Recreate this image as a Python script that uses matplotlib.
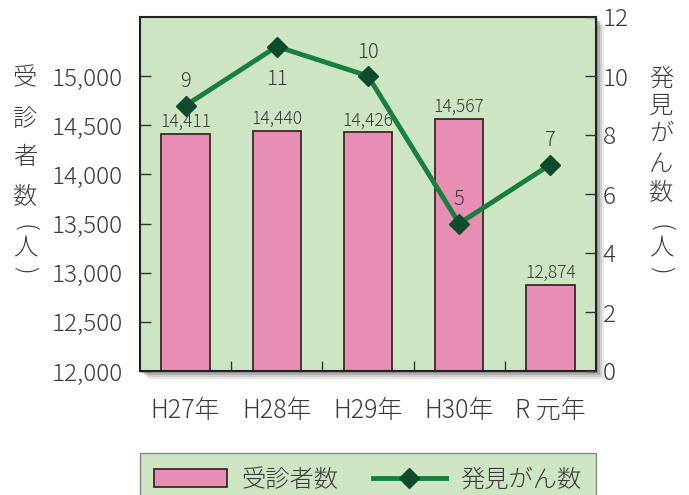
import matplotlib.pyplot as plt
from matplotlib.patches import Patch, Rectangle
from matplotlib.lines import Line2D

plt.rcParams['font.family'] = ['Noto Sans CJK JP', 'DejaVu Sans']
plt.rcParams['font.weight'] = 'light'

# データ
years = ['H27年', 'H28年', 'H29年', 'H30年', 'R 元年']
examinees = [14411, 14440, 14426, 14567, 12874]
cancers = [9, 11, 10, 5, 7]

bg = '#cde5c3'
pink = '#e88db3'
green = '#17803d'
dark = '#0e4a2c'
txt = '#3a3a3a'

fig = plt.figure(figsize=(6.89, 4.95), dpi=100)
W, H = 689, 495
L, R, T, B = 140, 596, 17, 371
pos = [L / W, 1 - B / H, (R - L) / W, (B - T) / H]

# 影
for off, a in [(8, 0.15), (6, 0.2), (4, 0.3), (2, 0.35)]:
    fig.patches.append(Rectangle((pos[0] + off / W, pos[1] - off / H), pos[2], pos[3],
                                 transform=fig.transFigure, color='#666666', alpha=a,
                                 lw=0, zorder=-1))

ax = fig.add_axes(pos)
ax.set_facecolor(bg)
x = range(len(years))
ax.bar(x, examinees, width=0.53, color=pink, edgecolor='#3a2a2a', lw=1.3, zorder=2)
ax.set_ylim(12000, 15600)
ax.set_xlim(-0.5, 4.5)
ax.set_yticks([12000, 12500, 13000, 13500, 14000, 14500, 15000])
ax.set_yticklabels([f'{v:,}' for v in ax.get_yticks()])
ax.set_xticks(list(x))
ax.set_xticklabels(years)
ax.set_xticks([0.5, 1.5, 2.5, 3.5], minor=True)
ax.tick_params(axis='x', which='major', length=0, pad=19, labelsize=18, labelcolor=txt)
ax.tick_params(axis='x', which='minor', direction='in', length=7, width=1, color='#333333')
ax.tick_params(axis='y', direction='in', length=8, width=1, pad=12, labelsize=17.5,
               labelcolor=txt, color='#333333')
for s in ax.spines.values():
    s.set_color('#222222')
    s.set_linewidth(1.5)

for i, v in enumerate(examinees):
    ax.annotate(f'{v:,}', (i, v), xytext=(0, 2), textcoords='offset points',
                ha='center', va='bottom', fontsize=12.5, color=txt)

ax2 = ax.twinx()
ax2.plot(x, cancers, color=green, lw=3.5, marker='D', markersize=10,
         markerfacecolor=dark, markeredgecolor=dark, zorder=3)
ax2.set_ylim(0, 12)
ax2.set_yticks(range(0, 13, 2))
ax2.tick_params(axis='y', direction='in', length=8, width=1, pad=5, labelsize=17.5,
                labelcolor=txt, color='#333333')
for s in ax2.spines.values():
    s.set_visible(False)

for i, v in enumerate(cancers):
    dy = -24 if v == 11 else 17
    ax2.annotate(str(v), (i, v), xytext=(0, dy), textcoords='offset points',
                 ha='center', va='center', fontsize=14.5, color=txt)


# 縦書きの軸ラベル（括弧は回転させる）
def vertical_label(xc, chars, ys):
    for ch, yc in zip(chars, ys):
        rot = -90 if ch in '()' else 0
        fig.text(xc / W, 1 - yc / H, ch, ha='center', va='center', fontsize=17.5,
                 color=txt, rotation=rot, rotation_mode='anchor')


vertical_label(25, '受診者数(人)', [79, 119, 158, 198, 228, 249, 270])
vertical_label(661, '発見がん数(人)', [79, 106, 134, 164, 194, 228, 249, 270])

handles = [Patch(facecolor=pink, edgecolor='#3a2a2a', lw=1.3),
           Line2D([], [], color=green, lw=3.5, marker='D', markersize=10,
                  markerfacecolor=dark, markeredgecolor=dark)]
leg = fig.legend(handles, ['受診者数', '発見がん数'], loc='upper center',
                 bbox_to_anchor=(368 / W, 1 - 453 / H), ncol=2, fontsize=17.5,
                 frameon=True, fancybox=False, facecolor=bg, edgecolor='#888888',
                 framealpha=1, handlelength=3, handleheight=0.75, columnspacing=1.4,
                 handletextpad=0.6, borderpad=0.6, labelcolor=txt, borderaxespad=0)
leg.get_frame().set_linewidth(1)

fig.savefig('out.png', dpi=100)
